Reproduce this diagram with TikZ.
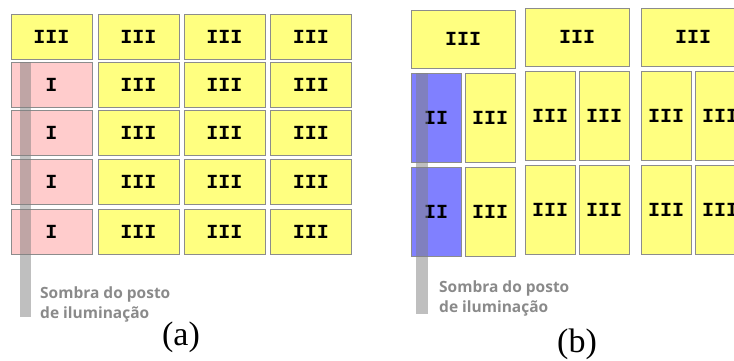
\documentclass[tikz,border=0pt]{standalone}
\usepackage{fontspec}
\setmainfont{Liberation Serif}
\newfontfamily\cellfont{Liberation Mono}
\newfontfamily\notefont{Open Sans}
\usetikzlibrary{positioning}

\definecolor{cellyellow}{HTML}{FFFF80}
\definecolor{cellpink}{HTML}{FFCCCC}
\definecolor{cellblue}{HTML}{8080FF}
\definecolor{cellborder}{HTML}{8C8C8C}
\definecolor{notegray}{HTML}{8A8A8A}

\begin{document}
\begin{tikzpicture}[x=1pt, y=-1pt,
    cell/.style={rectangle, draw=cellborder, line width=0.8pt, inner sep=0pt, font=\cellfont\bfseries\fontsize{20}{20}\selectfont},
    widecell/.style={cell, minimum width=81pt, minimum height=45pt},
    tallcell/.style={cell, minimum width=50pt, minimum height=89pt},
    topcell/.style={cell, minimum width=104pt, minimum height=58pt},
    shadowbar/.style={rectangle, fill=gray, opacity=0.5, inner sep=0pt, anchor=north west},
    note/.style={align=left, text=notegray, inner sep=0pt, font=\notefont\bfseries\fontsize{15.5}{20}\selectfont},
    caption/.style={inner sep=0pt, font=\fontsize{34}{34}\selectfont}
]
\useasboundingbox (0,0) rectangle (734,360);
\clip (0,0) rectangle (734,360);

% (a) wide cells
\foreach \x [count=\c] in {51.5, 138.5, 224.5, 311}
  \node[widecell, fill=cellyellow] (a1\c) at (\x, 37) {III};
\foreach \y [count=\r from 2] in {84.5, 132.5, 182, 232} {
  \node[widecell, fill=cellpink] (a\r1) at (51.5, \y) {I};
  \foreach \x [count=\c from 2] in {138.5, 224.5, 311}
    \node[widecell, fill=cellyellow] (a\r\c) at (\x, \y) {III};
}

% (a) shadow and labels
\node[shadowbar, minimum width=11pt, minimum height=255pt] (barA) at (20, 62) {};
\node[note, anchor=base west] (noteA) at (40, 318) {Sombra do posto\\de iluminação};
\node[caption, anchor=base] (capA) at (181, 345) {(a)};

% (b) top row
\node[topcell, fill=cellyellow] (b11) at (463, 39) {III};
\node[topcell, fill=cellyellow] (b12) at (577, 37) {III};
\node[topcell, fill=cellyellow] (b13) at (693, 37) {III};

% (b) tall cells
\foreach \y [count=\r from 2] in {117.5, 211.5} {
  \node[tallcell, fill=cellblue] (b\r1) at (436, \y) {II};
  \node[tallcell, fill=cellyellow] (b\r2) at (490, \y) {III};
  \foreach \x [count=\c from 3] in {550, 604, 666, 720}
    \node[tallcell, fill=cellyellow] (b\r\c) at (\x, \y - 2) {III};
}

% (b) shadow and labels
\node[shadowbar, minimum width=12pt, minimum height=241pt] (barB) at (416, 73) {};
\node[note, anchor=base west] (noteB) at (439, 312) {Sombra do posto\\de iluminação};
\node[caption, anchor=base] (capB) at (577, 352) {(b)};

\end{tikzpicture}
\end{document}
